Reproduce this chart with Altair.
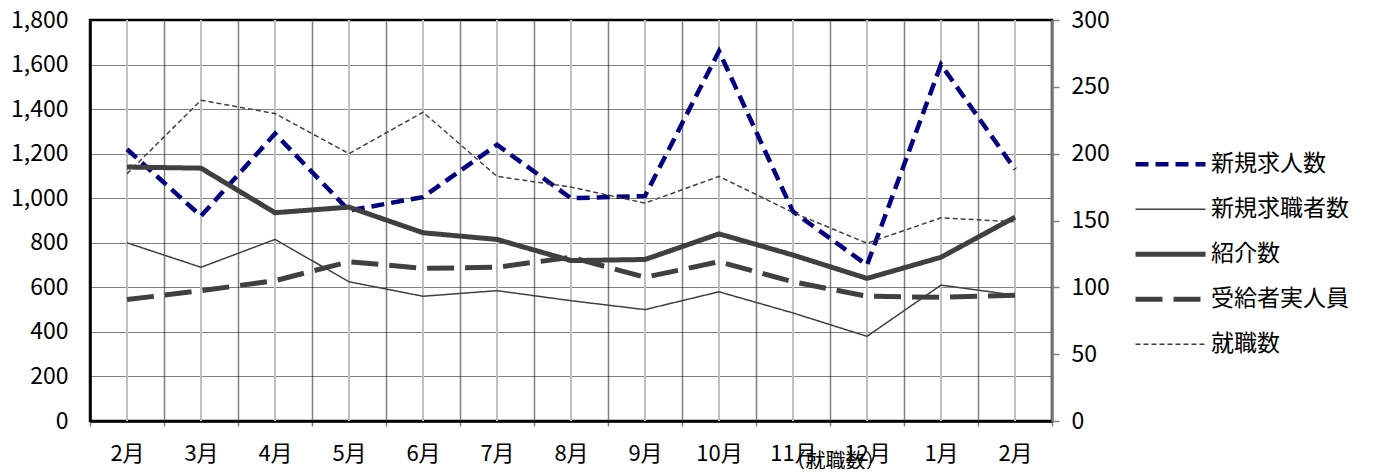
import json
import altair as alt
import pandas as pd

months = ['2月', '3月', '4月', '5月', '6月', '7月', '8月', '9月', '10月', '11月', '12月', '1月', '2月']
series_names = ['新規求人数', '新規求職者数', '紹介数', '受給者実人員', '就職数']

kyujin = [1220, 920, 1290, 945, 1005, 1240, 1000, 1010, 1660, 940, 700, 1600, 1130]
kyushoku = [800, 690, 815, 625, 560, 585, 540, 500, 580, 485, 380, 610, 565]
shokai = [1140, 1135, 935, 960, 845, 815, 720, 725, 840, 745, 640, 735, 915]
jukyu = [545, 585, 630, 715, 685, 690, 735, 645, 715, 625, 560, 555, 565]
shushoku = [185, 240, 230, 200, 231, 183, 175, 163, 183, 156, 133, 152, 149]

left_values = [kyujin, kyushoku, shokai, jukyu]

n = len(months)
rows = []
for name, vals in zip(series_names[:4], left_values):
    for i, v in enumerate(vals):
        rows.append({'x': i + 0.5, 'month': months[i], 'series': name, 'value': v})
df_left = pd.DataFrame(rows)
df_right = pd.DataFrame({'x': [i + 0.5 for i in range(n)], 'month': months,
                         'series': series_names[4], 'value': shushoku})
df_cat = pd.DataFrame({'x': [i + 0.5 for i in range(n)], 'month': months})

FONT = 'Noto Sans CJK JP'
W, H = 962, 401
half_band = W / n / 2

label_expr = f"datum.value < {n} ? {json.dumps(months, ensure_ascii=False)}[datum.value] : ''"

x_enc = alt.X('x:Q',
              scale=alt.Scale(domain=[0, n], nice=False, zero=False),
              axis=alt.Axis(values=list(range(n + 1)), labelExpr=label_expr, labelOffset=half_band,
                            labelOverlap=False, labelFlush=False, labelFont=FONT, labelFontSize=22,
                            labelColor='black', labelPadding=27, labelBaseline='middle',
                            title=None,
                            domainColor='black', domainWidth=2.5,
                            ticks=True, tickColor='#808080', tickSize=5, tickWidth=1.5,
                            grid=True, gridColor='#808080', gridWidth=1.5))

color_scale = alt.Scale(domain=series_names,
                        range=['#000080', '#404040', '#404040', '#404040', '#404040'])
dash_scale = alt.Scale(domain=series_names,
                       range=[[13, 7], [1, 0], [1, 0], [27, 11], [5, 3]])
width_scale = alt.Scale(type='ordinal', domain=series_names, range=[4.5, 1.5, 5, 5, 1.5])

legend = alt.Legend(title=None, orient='none', legendX=1043, legendY=122,
                    symbolType='stroke', symbolSize=4900, labelFont=FONT, labelFontSize=23,
                    labelColor='black', labelOffset=3, clipHeight=44.7, rowPadding=0,
                    padding=0, labelLimit=300)

enc_common = dict(
    color=alt.Color('series:N', scale=color_scale, legend=legend),
    strokeDash=alt.StrokeDash('series:N', scale=dash_scale, legend=legend),
    strokeWidth=alt.StrokeWidth('series:N', scale=width_scale, legend=legend),
)

center_rules = alt.Chart(df_cat).mark_rule(color='#c0c0c0', strokeWidth=2).encode(x=x_enc)

left_lines = alt.Chart(df_left).mark_line(strokeCap='butt').encode(
    x=x_enc,
    y=alt.Y('value:Q', scale=alt.Scale(domain=[0, 1800], nice=False),
            axis=alt.Axis(values=list(range(0, 1801, 200)), format=',d', title=None,
                          orient='left', labelFont=FONT, labelFontSize=23, labelColor='black',
                          labelPadding=22, ticks=False, domainColor='black', domainWidth=2.5,
                          grid=True, gridColor='black', gridWidth=1, gridDash=[1, 1])),
    order=alt.Order('x:Q'),
    **enc_common,
)

right_line = alt.Chart(df_right).mark_line(strokeCap='butt').encode(
    x=x_enc,
    y=alt.Y('value:Q', scale=alt.Scale(domain=[0, 300], nice=False),
            axis=alt.Axis(values=list(range(0, 301, 50)), title='（就職数）', orient='right',
                          titleAngle=0, titleX=-217, titleY=441, titleAlign='center',
                          titleBaseline='middle', titleFont=FONT, titleFontSize=20,
                          titleFontWeight='normal', titleColor='black',
                          labelFont=FONT, labelFontSize=23, labelColor='black', labelPadding=12,
                          ticks=True, tickColor='#808080', tickSize=7, tickWidth=1.5,
                          domainColor='#808080', domainWidth=2.5, grid=False)),
    order=alt.Order('x:Q'),
    **enc_common,
)

chart = alt.layer(center_rules, left_lines, right_line).resolve_scale(
    y='independent'
).properties(
    width=W, height=H,
    autosize=alt.AutoSizeParams(type='none'),
    padding={'left': 82, 'top': 12, 'right': 300, 'bottom': 48},
    background='white',
).configure_view(stroke='black', strokeWidth=2.5)

chart.save('out.html', embed_options={'renderer': 'svg', 'actions': False})
